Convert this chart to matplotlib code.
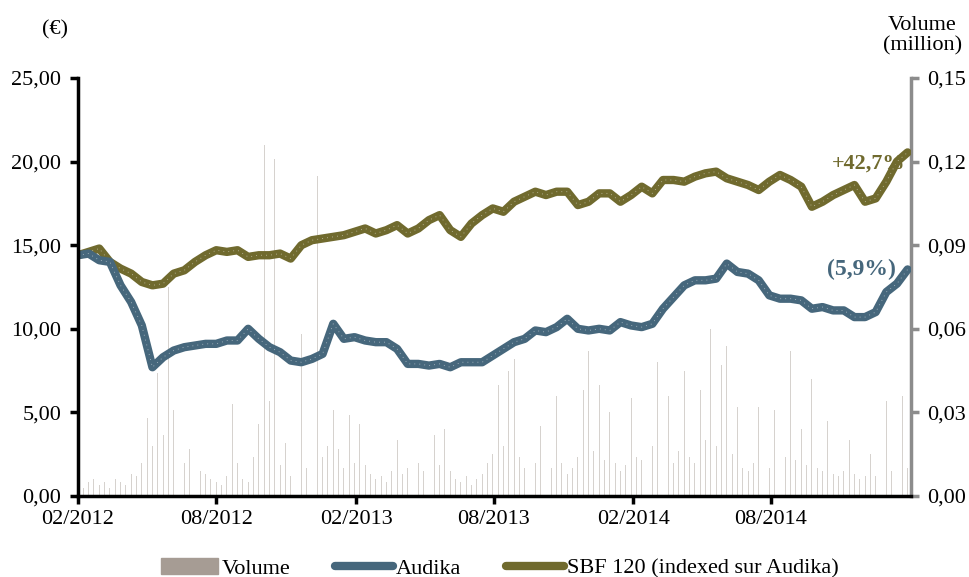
import matplotlib.pyplot as plt
import matplotlib.dates as mdates
from matplotlib.patches import Patch
from matplotlib.lines import Line2D
import pandas as pd

plt.rcParams['font.family'] = ['Liberation Serif', 'DejaVu Serif']

# ---- donnees ----
dates_cours = pd.date_range('2012-02-01', periods=79, freq='14D')
audika = [14.4, 14.5, 14.1, 14.0, 12.6, 11.6, 10.2, 7.7, 8.3, 8.7,
          8.9, 9.0, 9.1, 9.1, 9.3, 9.3, 10.0, 9.4, 8.9, 8.6,
          8.1, 8.0, 8.2, 8.5, 10.3, 9.4, 9.5, 9.3, 9.2, 9.2,
          8.8, 7.9, 7.9, 7.8, 7.9, 7.7, 8.0, 8.0, 8.0, 8.4,
          8.8, 9.2, 9.4, 9.9, 9.8, 10.1, 10.6, 10.0, 9.9, 10.0,
          9.9, 10.4, 10.2, 10.1, 10.3, 11.2, 11.9, 12.6, 12.9, 12.9,
          13.0, 13.9, 13.4, 13.3, 12.9, 12.0, 11.8, 11.8, 11.7, 11.2,
          11.3, 11.1, 11.1, 10.7, 10.7, 11.0, 12.2, 12.7, 13.55]
sbf120 = [14.4, 14.6, 14.8, 14.0, 13.6, 13.3, 12.8, 12.6, 12.7, 13.3,
          13.5, 14.0, 14.4, 14.7, 14.6, 14.7, 14.3, 14.4, 14.4, 14.5,
          14.2, 15.0, 15.3, 15.4, 15.5, 15.6, 15.8, 16.0, 15.7, 15.9,
          16.2, 15.7, 16.0, 16.5, 16.8, 15.9, 15.5, 16.3, 16.8, 17.2,
          17.0, 17.6, 17.9, 18.2, 18.0, 18.2, 18.2, 17.4, 17.6, 18.1,
          18.1, 17.6, 18.0, 18.5, 18.1, 18.9, 18.9, 18.8, 19.1, 19.3,
          19.4, 19.0, 18.8, 18.6, 18.3, 18.8, 19.2, 18.9, 18.5, 17.3,
          17.6, 18.0, 18.3, 18.6, 17.6, 17.8, 18.8, 20.0, 20.55]

dates_volume = pd.date_range('2012-02-01', periods=157, freq='7D')
volume = [0.004, 0.003, 0.005, 0.006, 0.004, 0.005, 0.003, 0.006, 0.005, 0.004,
          0.008, 0.007, 0.012, 0.028, 0.018, 0.044, 0.022, 0.075, 0.031, 0.015,
          0.012, 0.017, 0.016, 0.009, 0.008, 0.006, 0.005, 0.004, 0.007, 0.033,
          0.012, 0.006, 0.005, 0.014, 0.026, 0.126, 0.034, 0.121, 0.011, 0.019,
          0.007, 0.009, 0.058, 0.010, 0.012, 0.115, 0.014, 0.018, 0.031, 0.017,
          0.010, 0.029, 0.012, 0.026, 0.011, 0.008, 0.006, 0.007, 0.005, 0.009,
          0.020, 0.008, 0.010, 0.023, 0.012, 0.009, 0.055, 0.022, 0.011, 0.024,
          0.009, 0.006, 0.005, 0.007, 0.004, 0.006, 0.008, 0.012, 0.015, 0.040,
          0.018, 0.045, 0.049, 0.014, 0.010, 0.009, 0.012, 0.025, 0.011, 0.010,
          0.036, 0.012, 0.008, 0.010, 0.014, 0.038, 0.052, 0.016, 0.040, 0.013,
          0.030, 0.012, 0.009, 0.011, 0.035, 0.014, 0.013, 0.040, 0.018, 0.048,
          0.015, 0.036, 0.012, 0.016, 0.045, 0.014, 0.012, 0.038, 0.020, 0.060,
          0.018, 0.047, 0.054, 0.015, 0.032, 0.010, 0.009, 0.012, 0.032, 0.011,
          0.010, 0.031, 0.012, 0.014, 0.052, 0.013, 0.024, 0.011, 0.042, 0.010,
          0.009, 0.027, 0.008, 0.007, 0.009, 0.020, 0.008, 0.006, 0.007, 0.015,
          0.007, 0.016, 0.034, 0.009, 0.008, 0.036, 0.010]

ticks_x = pd.to_datetime(['2012-02-01', '2012-08-01', '2013-02-01',
                          '2013-08-01', '2014-02-01', '2014-08-01'])
ticks_gauche = [0, 5, 10, 15, 20, 25]
ticks_droite = [0, 0.03, 0.06, 0.09, 0.12, 0.15]

bleu = '#46677c'
olive = '#706a2e'
gris_vol = '#a69c94'
fs = 16

fig = plt.figure(figsize=(9.7, 5.77), dpi=100)
ax1 = fig.add_axes([0.0804, 0.1404, 0.8584, 0.7244])
ax2 = ax1.twinx()

# volume (axe de droite)
ax2.bar(dates_volume, volume, width=1.2, color=gris_vol, alpha=0.45, linewidth=0)
ax2.set_ylim(0, 0.15)
ax2.set_yticks(ticks_droite)
ax2.set_yticklabels([f"{v:.2f}".replace('.', ',') for v in ticks_droite], fontsize=fs)

# cours (axe de gauche)
ax1.set_zorder(ax2.get_zorder() + 1)
ax1.patch.set_visible(False)
for serie, coul in [(sbf120, olive), (audika, bleu)]:
    ax1.plot(dates_cours, serie, color=coul, lw=6, solid_capstyle='round',
             solid_joinstyle='round')
    ax1.plot(dates_cours, serie, color='white', lw=0.6, alpha=0.6,
             linestyle=(0, (1, 5)))

ax1.set_ylim(0, 25)
ax1.set_yticks(ticks_gauche)
ax1.set_yticklabels([f"{v:.2f}".replace('.', ',') for v in ticks_gauche], fontsize=fs)
ax1.set_xlim(pd.Timestamp('2012-02-01'), pd.Timestamp('2015-02-01'))
ax1.set_xticks(ticks_x)
ax1.xaxis.set_major_formatter(mdates.DateFormatter('%m/%Y'))
ax1.tick_params(axis='x', labelsize=fs, length=6, width=2.5, pad=4)
ax1.tick_params(axis='y', length=6, width=2.5, pad=6)

for ax in (ax1, ax2):
    ax.spines['top'].set_visible(False)
ax1.spines['right'].set_visible(False)
ax1.spines['left'].set_linewidth(2.5)
ax1.spines['bottom'].set_linewidth(2.5)
ax2.spines['left'].set_visible(False)
ax2.spines['bottom'].set_visible(False)
ax2.spines['right'].set_color('#8c8c8c')
ax2.spines['right'].set_linewidth(2.5)
ax2.tick_params(axis='y', colors='#8c8c8c', labelcolor='black', length=6, width=2.5, pad=6)

# annotations
ax1.text(pd.Timestamp('2015-01-25'), 19.3, '+42,7%', color=olive, fontsize=fs,
         fontweight='bold', ha='right', va='bottom')
ax1.text(pd.Timestamp('2015-01-12'), 12.9, '(5,9%)', color=bleu, fontsize=fs + 1,
         fontweight='bold', ha='right', va='bottom')
fig.text(0.057, 0.948, '(€)', fontsize=fs, ha='center', va='center')
fig.text(0.951, 0.938, 'Volume\n(million)', fontsize=fs, ha='center', va='center',
         linespacing=1.05)

handles = [Patch(color=gris_vol),
           Line2D([], [], color=bleu, lw=6, solid_capstyle='round'),
           Line2D([], [], color=olive, lw=6, solid_capstyle='round')]
labels = ['Volume', 'Audika', 'SBF 120 (indexed sur Audika)']
fig.legend(handles, labels, loc='lower center', bbox_to_anchor=(0.515, -0.038),
           ncol=3, frameon=False, fontsize=fs, handlelength=2.6,
           handletextpad=0.15, columnspacing=2.0)

fig.savefig('out.png', dpi=100)
